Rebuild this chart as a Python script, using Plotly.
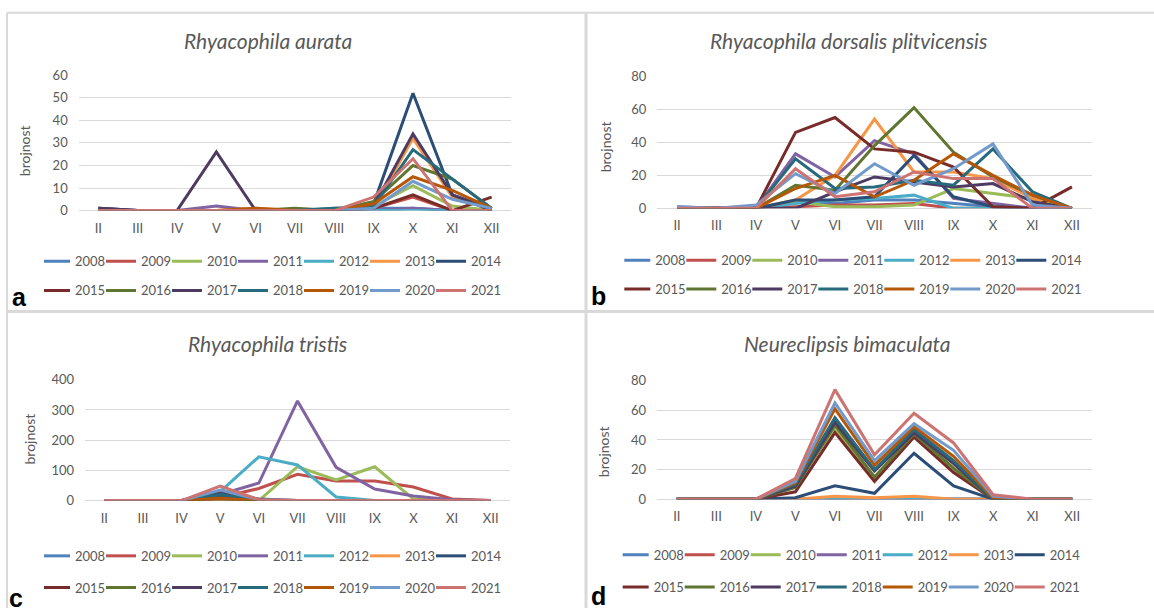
import plotly.graph_objects as go

W, H = 1154, 616
months = ["II", "III", "IV", "V", "VI", "VII", "VIII", "IX", "X", "XI", "XII"]
years = [str(y) for y in range(2008, 2022)]
year_colors = ["#4F81BD", "#C0504D", "#9BBB59", "#8064A2", "#4BACC6", "#F79646", "#2C4D75",
               "#772C2A", "#5F7530", "#4D3B62", "#276A7C", "#B65708", "#729ACA", "#CD7371"]

titles = ["Rhyacophila aurata", "Rhyacophila dorsalis plitvicensis",
          "Rhyacophila tristis", "Neureclipsis bimaculata"]
panel_letters = ["a", "b", "c", "d"]
y_maxima = [60, 80, 400, 80]
y_steps = [10, 20, 100, 20]

aurata = {
    "2008": [0, 0, 0, 0, 0, 0, 0, 1, 1, 0, 0],
    "2009": [0, 0, 0, 0, 0, 0, 0, 1, 6, 0, 0],
    "2010": [0, 0, 0, 0, 0, 0, 0, 2, 11, 2, 0],
    "2011": [1, 0, 0, 2, 0, 0, 0, 0, 1, 0, 0],
    "2012": [0, 0, 0, 0, 0, 0, 1, 0, 0, 0, 0],
    "2013": [0, 0, 0, 0, 1, 0, 0, 1, 32, 6, 1],
    "2014": [1, 0, 0, 0, 0, 0, 0, 3, 52, 7, 1],
    "2015": [0, 0, 0, 0, 0, 0, 0, 1, 7, 0, 6],
    "2016": [0, 0, 0, 0, 0, 1, 0, 4, 20, 14, 1],
    "2017": [1, 0, 0, 26, 0, 0, 0, 2, 34, 7, 0],
    "2018": [0, 0, 0, 0, 0, 0, 1, 2, 27, 14, 1],
    "2019": [0, 0, 0, 0, 1, 0, 0, 3, 15, 9, 1],
    "2020": [0, 0, 0, 0, 0, 0, 0, 1, 13, 5, 1],
    "2021": [0, 0, 0, 0, 0, 0, 0, 6, 23, 0, 0],
}

dorsalis = {
    "2008": [1, 0, 0, 4, 3, 5, 5, 3, 1, 0, 0],
    "2009": [0, 0, 0, 1, 2, 2, 3, 0, 0, 0, 0],
    "2010": [0, 0, 0, 4, 1, 1, 2, 12, 9, 6, 0],
    "2011": [0, 0, 0, 33, 19, 41, 33, 6, 3, 0, 0],
    "2012": [0, 0, 0, 3, 5, 6, 8, 0, 0, 0, 0],
    "2013": [0, 0, 0, 5, 20, 54, 22, 22, 18, 6, 0],
    "2014": [0, 0, 0, 5, 5, 7, 32, 7, 1, 0, 0],
    "2015": [0, 0, 0, 46, 55, 36, 34, 25, 1, 0, 13],
    "2016": [0, 0, 0, 14, 11, 38, 61, 34, 19, 8, 0],
    "2017": [0, 0, 0, 0, 10, 19, 16, 13, 15, 4, 0],
    "2018": [0, 0, 0, 30, 12, 13, 17, 14, 36, 10, 0],
    "2019": [0, 0, 0, 12, 20, 7, 17, 33, 20, 8, 0],
    "2020": [1, 0, 2, 21, 9, 27, 14, 24, 39, 2, 0],
    "2021": [0, 0, 0, 24, 7, 10, 22, 18, 18, 0, 0],
}

tristis = {
    "2008": [0, 0, 0, 5, 0, 0, 0, 0, 0, 0, 0],
    "2009": [0, 0, 0, 10, 40, 87, 65, 65, 45, 5, 0],
    "2010": [0, 0, 0, 0, 0, 112, 68, 112, 5, 0, 0],
    "2011": [0, 0, 0, 20, 58, 330, 110, 38, 15, 3, 0],
    "2012": [0, 0, 0, 30, 145, 118, 12, 0, 0, 0, 0],
    "2013": [0, 0, 0, 5, 0, 0, 0, 0, 0, 0, 0],
    "2014": [0, 0, 0, 10, 0, 0, 0, 0, 0, 0, 0],
    "2015": [0, 0, 0, 5, 0, 0, 0, 0, 0, 0, 0],
    "2016": [0, 0, 0, 8, 0, 0, 0, 0, 0, 0, 0],
    "2017": [0, 0, 0, 25, 5, 0, 0, 0, 0, 0, 0],
    "2018": [0, 0, 0, 20, 0, 0, 0, 0, 0, 0, 0],
    "2019": [0, 0, 0, 8, 0, 0, 0, 0, 0, 0, 0],
    "2020": [0, 0, 0, 35, 3, 0, 0, 0, 0, 0, 0],
    "2021": [0, 0, 0, 48, 3, 0, 0, 0, 0, 0, 0],
}

bimaculata = {
    "2008": [0, 0, 0, 0, 0, 0, 0, 0, 0, 0, 0],
    "2009": [0, 0, 0, 0, 0, 0, 0, 0, 0, 0, 0],
    "2010": [0, 0, 0, 10, 48, 14, 43, 20, 0, 0, 0],
    "2011": [0, 0, 0, 0, 0, 0, 0, 0, 0, 0, 0],
    "2012": [0, 0, 0, 0, 0, 0, 0, 0, 0, 0, 0],
    "2013": [0, 0, 0, 0, 2, 1, 2, 0, 0, 0, 0],
    "2014": [0, 0, 0, 1, 9, 4, 31, 9, 0, 0, 0],
    "2015": [0, 0, 0, 5, 45, 12, 42, 18, 0, 0, 0],
    "2016": [0, 0, 0, 8, 50, 15, 44, 21, 0, 0, 0],
    "2017": [0, 0, 0, 9, 52, 19, 45, 24, 0, 0, 0],
    "2018": [0, 0, 0, 10, 55, 20, 47, 26, 0, 0, 0],
    "2019": [0, 0, 0, 11, 61, 23, 49, 29, 1, 0, 0],
    "2020": [0, 0, 0, 12, 65, 26, 51, 33, 2, 0, 0],
    "2021": [0, 0, 0, 14, 74, 30, 58, 38, 3, 0, 0],
}

panel_data = [aurata, dorsalis, tristis, bimaculata]

# ---- layout geometry (pixels) ----
plot_boxes = [  # x0, x1, ytop, ybottom
    (78.7, 511.3, 69, 208),
    (657.3, 1091.7, 70, 205.7),
    (85, 510, 381.7, 505.7),
    (657, 1092, 382.7, 504.3),
]
title_pos = [(267.5, 33.5), (848, 33.5), (267.7, 344.3), (847.5, 344)]
ytitle_pos = [(24, 147), (605, 143), (29, 443), (603, 456)]
letter_pos = [(19, 297), (598, 296), (16, 606), (598, 604)]
legend_pos = [  # x of first line start, y row1, y row2
    (40, 260, 290),
    (620.3, 259, 288.5),
    (40, 562.5, 595),
    (618.7, 561.5, 594.5),
]
LEG_INDENT = -9
LEG_ENTRY = 30

GREY_TXT = "#595959"
GRID = "#d9d9d9"
FONT = "Lato"

fig = go.Figure()
layout = dict(
    width=W, height=H, margin=dict(l=0, r=0, t=0, b=0),
    paper_bgcolor="white", plot_bgcolor="white",
    font=dict(family=FONT, color=GREY_TXT, size=13),
    showlegend=True, hovermode=False,
)

annotations = []
for p in range(4):
    ax = "" if p == 0 else str(p + 1)
    x0, x1, yt, yb = plot_boxes[p]
    layout["xaxis" + ax] = dict(
        domain=[x0 / W, x1 / W], anchor="y" + ax, type="category",
        categoryorder="array", categoryarray=months, range=[-0.5, 10.5],
        showgrid=False, zeroline=False, showline=False, ticks="",
        tickfont=dict(family=FONT, size=13, color=GREY_TXT), ticklabelstandoff=8,
        fixedrange=True,
    )
    layout["yaxis" + ax] = dict(
        domain=[1 - yb / H, 1 - yt / H], anchor="x" + ax,
        range=[0, y_maxima[p]], dtick=y_steps[p], tick0=0,
        showgrid=True, gridcolor=GRID, gridwidth=1,
        zeroline=True, zerolinecolor=GRID, zerolinewidth=1,
        showline=False, ticks="", ticklabelstandoff=10,
        tickfont=dict(family=FONT, size=13, color=GREY_TXT), fixedrange=True,
    )
    lx, ly1, ly2 = legend_pos[p]
    for r, ly in enumerate([ly1, ly2]):
        idx = 2 * p + r + 1
        lname = "legend" if idx == 1 else "legend%d" % idx
        layout[lname] = dict(
            orientation="h", x=(lx - 5 - LEG_INDENT) / W, xanchor="left", y=1 - ly / H, yanchor="middle",
            bgcolor="rgba(0,0,0,0)", borderwidth=0,
            font=dict(family=FONT, size=13, color=GREY_TXT),
            entrywidth=LEG_ENTRY, entrywidthmode="pixels", itemwidth=30, indentation=LEG_INDENT,
            tracegroupgap=0, traceorder="normal",
        )
    data = panel_data[p]
    for i, yr in enumerate(years):
        idx = 2 * p + (1 if i < 7 else 2)
        lname = "legend" if idx == 1 else "legend%d" % idx
        fig.add_trace(go.Scatter(
            x=months, y=data[yr], mode="lines", name=yr,
            line=dict(color=year_colors[i], width=3),
            xaxis="x" + ax, yaxis="y" + ax, legend=lname,
        ))
    tx, ty = title_pos[p]
    annotations.append(dict(
        text="<i>%s</i>" % titles[p], x=tx / W, y=1 - ty / H, xref="paper", yref="paper",
        showarrow=False, xanchor="center", yanchor="middle",
        font=dict(family=FONT, size=21, color=GREY_TXT),
    ))
    yx, yy = ytitle_pos[p]
    annotations.append(dict(
        text="brojnost", x=yx / W, y=1 - yy / H, xref="paper", yref="paper",
        showarrow=False, xanchor="center", yanchor="middle", textangle=-90,
        font=dict(family=FONT, size=14, color=GREY_TXT),
    ))
    lx_, ly_ = letter_pos[p]
    annotations.append(dict(
        text="<b>%s</b>" % panel_letters[p], x=lx_ / W, y=1 - ly_ / H, xref="paper", yref="paper",
        showarrow=False, xanchor="center", yanchor="middle",
        font=dict(family="Liberation Sans", size=25, color="black"),
    ))

shapes = []
border = dict(color=GRID, width=2)
shapes.append(dict(type="line", xref="paper", yref="paper", x0=7 / W, x1=1, y0=1 - 5 / H, y1=1 - 5 / H, line=border))
shapes.append(dict(type="line", xref="paper", yref="paper", x0=7 / W, x1=7 / W, y0=0, y1=1 - 5 / H, line=border))
shapes.append(dict(type="line", xref="paper", yref="paper", x0=586 / W, x1=586 / W, y0=0, y1=1 - 5 / H, line=dict(color=GRID, width=3)))
shapes.append(dict(type="line", xref="paper", yref="paper", x0=7 / W, x1=1, y0=1 - 311.5 / H, y1=1 - 311.5 / H, line=dict(color=GRID, width=3)))

layout["annotations"] = annotations
layout["shapes"] = shapes
fig.update_layout(**layout)
fig.write_html("out.html")
